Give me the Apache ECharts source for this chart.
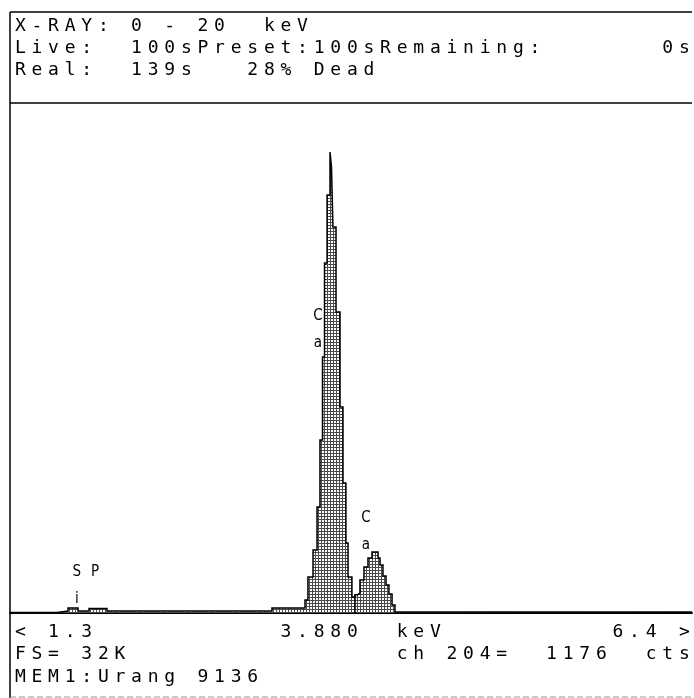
<!DOCTYPE html>
<html>
<head>
<meta charset="utf-8">
<script src="https://cdn.jsdelivr.net/npm/echarts@6/dist/echarts.min.js"></script>
<style>
  html, body { margin: 0; padding: 0; background: #fff; }
  #chart { width: 694px; height: 698px; }
</style>
</head>
<body>
<div id="chart"></div>
<script>
// spectrum as step levels: each level starts at energies[i] (keV) with counts[i]
const energies = [1.300, 1.651, 1.734, 1.809, 1.891, 2.025, 3.259, 3.506, 3.528, 3.566, 3.596, 3.618, 3.637, 3.652, 3.671, 3.693, 3.704, 3.715, 3.738, 3.768, 3.790, 3.812, 3.828, 3.857, 3.880, 3.899, 3.917, 3.947, 3.977, 4.007, 4.052, 4.067, 4.089, 4.112, 4.134, 4.157, 4.179, 6.400]
const counts = [32, 129, 321, 129, 289, 129, 321, 835, 2313, 4048, 6811, 11115, 16448, 22488, 26857, 29620, 28656, 24801, 19339, 13236, 8353, 4498, 2313, 1028, 1176, 1285, 2120, 2956, 3534, 3919, 3534, 3084, 2377, 1799, 1221, 514, 64, 32]

const cursorKeV = 3.880
const cursorCounts = 1176

const peakNames = ['Si', 'P', 'Ca', 'Ca']
const peakKeV = [1.800, 1.936, 3.603, 3.962]
const peakCounts = [1735, 2634, 18215, 5236]

const headerLines = [
  'X-RAY: 0 - 20  keV',
  'Live:  100sPreset:100sRemaining:       0s',
  'Real:  139s   28% Dead'
]
const footerLines = [
  '< 1.3           3.880  keV          6.4 >',
  'FS= 32K                ch 204=  1176  cts',
  'MEM1:Urang 9136'
]

const fullScale = 32768

const chart = echarts.init(document.getElementById('chart'))

// dotted mesh fill like the printout
const pat = document.createElement('canvas')
pat.width = 3
pat.height = 3
const pg = pat.getContext('2d')
pg.fillStyle = '#fff'
pg.fillRect(0, 0, 3, 3)
pg.fillStyle = '#4a4a4a'
pg.fillRect(0, 0, 3, 1)
pg.fillRect(0, 0, 1, 3)

const cellW = 16.6
const cellX0 = 12
const mono = "'DejaVu Sans Mono', monospace"

function textRows(lines, ys) {
  const out = []
  lines.forEach((line, r) => {
    line.split('').forEach((ch, k) => {
      if (ch === ' ') return
      out.push({
        type: 'text',
        x: cellX0 + k * cellW + cellW / 2,
        y: ys[r],
        silent: true,
        style: { text: ch, fontFamily: mono, fontSize: 18, fill: '#000', align: 'center', verticalAlign: 'middle' }
      })
    })
  })
  return out
}

const frame = [
  { type: 'line', shape: { x1: 10, y1: 12, x2: 692, y2: 12 }, style: { stroke: '#000', lineWidth: 1.5 } },
  { type: 'line', shape: { x1: 10, y1: 103, x2: 692, y2: 103 }, style: { stroke: '#000', lineWidth: 1.5 } },
  { type: 'line', shape: { x1: 10, y1: 12, x2: 10, y2: 698 }, style: { stroke: '#000', lineWidth: 1.5 } },
  { type: 'line', shape: { x1: 10, y1: 697, x2: 692, y2: 697 }, style: { stroke: '#999', lineWidth: 1, lineDash: [6, 3] } }
]

chart.setOption({
  animation: false,
  backgroundColor: '#fff',
  grid: { left: 10, right: 2, top: 103, bottom: 85 },
  xAxis: {
    type: 'value',
    min: 1.3,
    max: 6.4,
    axisLine: { lineStyle: { color: '#000', width: 2 } },
    axisTick: { show: false },
    axisLabel: { show: false },
    splitLine: { show: false }
  },
  yAxis: {
    type: 'value',
    min: 0,
    max: fullScale,
    show: false
  },
  graphic: frame.concat(textRows(headerLines, [26, 48, 70]), textRows(footerLines, [632, 654, 677])),
  series: [{
    type: 'line',
    step: 'end',
    symbol: 'none',
    data: energies.map((e, i) => [e, counts[i]]),
    lineStyle: { color: '#000', width: 1.5, join: 'miter' },
    areaStyle: { color: { image: pat, repeat: 'repeat' }, opacity: 1 },
    markLine: {
      silent: true,
      symbol: 'none',
      label: { show: false },
      lineStyle: { color: '#000', width: 1.5, type: 'solid' },
      data: [[{ coord: [cursorKeV, 0] }, { coord: [cursorKeV, cursorCounts] }]]
    },
    markPoint: {
      silent: true,
      symbolSize: 0,
      label: {
        show: true,
        position: 'inside',
        color: '#000',
        fontFamily: "'Liberation Sans Narrow', 'DejaVu Sans Condensed', 'DejaVu Sans'",
        fontSize: 15,
        lineHeight: 27
      },
      data: peakNames.map((n, i) => ({
        coord: [peakKeV[i], peakCounts[i]],
        label: { formatter: n.split('').join('\n') }
      }))
    }
  }]
})
</script>
</body>
</html>
